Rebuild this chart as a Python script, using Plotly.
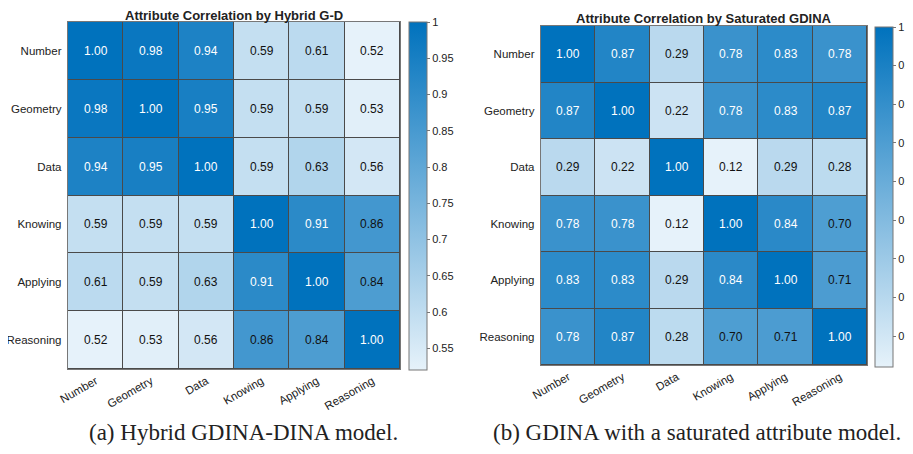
import plotly.graph_objects as go

attributes = ["Number", "Geometry", "Data", "Knowing", "Applying", "Reasoning"]

corr_hybrid = [
    [1.00, 0.98, 0.94, 0.59, 0.61, 0.52],
    [0.98, 1.00, 0.95, 0.59, 0.59, 0.53],
    [0.94, 0.95, 1.00, 0.59, 0.63, 0.56],
    [0.59, 0.59, 0.59, 1.00, 0.91, 0.86],
    [0.61, 0.59, 0.63, 0.91, 1.00, 0.84],
    [0.52, 0.53, 0.56, 0.86, 0.84, 1.00],
]

corr_saturated = [
    [1.00, 0.87, 0.29, 0.78, 0.83, 0.78],
    [0.87, 1.00, 0.22, 0.78, 0.83, 0.87],
    [0.29, 0.22, 1.00, 0.12, 0.29, 0.28],
    [0.78, 0.78, 0.12, 1.00, 0.84, 0.70],
    [0.83, 0.83, 0.29, 0.84, 1.00, 0.71],
    [0.78, 0.87, 0.28, 0.70, 0.71, 1.00],
]

ticks_hybrid = [0.55, 0.6, 0.65, 0.7, 0.75, 0.8, 0.85, 0.9, 0.95, 1]
ticks_saturated = [0.2, 0.3, 0.4, 0.5, 0.6, 0.7, 0.8, 0.9, 1]

titles = ["Attribute Correlation by Hybrid G-D",
          "Attribute Correlation by Saturated GDINA"]
captions = ["(a) Hybrid GDINA-DINA model.",
            "(b) GDINA with a saturated attribute model."]

sky = [[0, "rgb(230,242,250)"], [1, "rgb(0,114,189)"]]
W, H = 913, 454
OFF = 8  # page body margin, positions below are screen pixels
FONT = "Liberation Sans, Arial, sans-serif"


def px(x):
    return (x - OFF) / W


def py(y):
    return 1 - (y - OFF) / H


fig = go.Figure()


def add_map(z, ticks, xa, ya, cb_x, cb_top, cb_bot):
    zmin = min(min(r) for r in z)
    zmax = max(max(r) for r in z)
    fig.add_trace(
        go.Heatmap(
            z=z, x=attributes, y=attributes,
            xaxis=xa, yaxis=ya,
            colorscale=sky, zmin=zmin, zmax=zmax,
            xgap=1, ygap=1,
            colorbar=dict(
                x=px(cb_x), xanchor="left", xpad=0, ypad=0,
                y=py(cb_bot), yanchor="bottom",
                len=(cb_bot - cb_top) / H, lenmode="fraction",
                thickness=18, thicknessmode="pixels",
                outlinewidth=1, outlinecolor="#777",
                tickvals=ticks, ticktext=[f"{t:g}" for t in ticks],
                ticks="outside", ticklen=3, tickcolor="#777",
                tickfont=dict(family=FONT, size=11, color="#222"),
            ),
        )
    )
    # cell labels, white on dark cells
    for i, row in enumerate(z):
        for j, v in enumerate(row):
            norm = (v - zmin) / (zmax - zmin)
            fig.add_annotation(
                x=attributes[j], y=attributes[i], xref=xa, yref=ya,
                text=f"{v:.2f}", showarrow=False,
                font=dict(family=FONT, size=12,
                          color="white" if norm > 0.72 else "#111"),
            )


add_map(corr_hybrid, ticks_hybrid, "x", "y", 409, 22, 370)
add_map(corr_saturated, ticks_saturated, "x2", "y2", 875, 27, 367)

axis_common = dict(
    showline=True, linecolor="#777", linewidth=1, mirror=True,
    ticks="", showgrid=False, zeroline=False,
    tickfont=dict(family=FONT, size=11.5, color="#222"),
)

fig.update_layout(
    width=W, height=H,
    margin=dict(l=0, r=0, t=0, b=0, autoexpand=False),
    paper_bgcolor="white", plot_bgcolor="#4a4a4a",
    xaxis=dict(domain=[px(68), px(400)], anchor="y", tickangle=-30, **axis_common),
    yaxis=dict(domain=[py(369), py(22)], anchor="x",
               autorange="reversed", ticksuffix=" ", **axis_common),
    xaxis2=dict(domain=[px(541), px(867)], anchor="y2", tickangle=-30, **axis_common),
    yaxis2=dict(domain=[py(365), py(26)], anchor="x2",
                autorange="reversed", ticksuffix=" ", **axis_common),
)

for cx, cy, t in [(234, 15, titles[0]), (704, 19, titles[1])]:
    fig.add_annotation(
        x=px(cx), y=py(cy), xref="paper", yref="paper",
        text=f"<b>{t}</b>", showarrow=False,
        xanchor="center", yanchor="middle",
        font=dict(family=FONT, size=13, color="#222"),
    )

for cx, t in [(243, captions[0]), (697, captions[1])]:
    fig.add_annotation(
        x=px(cx), y=py(432), xref="paper", yref="paper",
        text=t, showarrow=False,
        xanchor="center", yanchor="middle",
        font=dict(family="Liberation Serif, DejaVu Serif, serif", size=23, color="#222"),
    )

fig.write_html("out.html")
